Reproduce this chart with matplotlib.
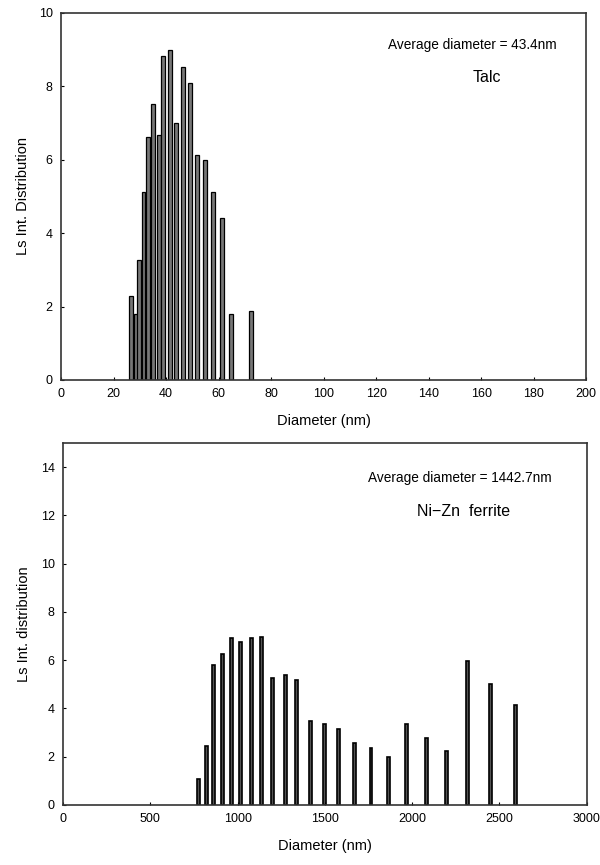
import matplotlib.pyplot as plt

plt.rcParams['font.family'] = ['Liberation Sans', 'DejaVu Sans']

# Talc size distribution
talc_d = [26.8, 28.4, 29.8, 31.4, 33.2, 35.0, 37.4, 38.9, 41.5, 43.9,
          46.3, 49.1, 51.9, 55.0, 58.0, 61.3, 64.8, 72.5]
talc_v = [2.29, 1.80, 3.27, 5.12, 6.61, 7.52, 6.68, 8.83, 8.99, 6.99,
          8.52, 8.08, 6.12, 5.99, 5.12, 4.41, 1.80, 1.87]

# Ni-Zn ferrite size distribution
fer_d = [774, 822, 864, 916, 966, 1017, 1079, 1138, 1199, 1272, 1339,
         1416, 1496, 1577, 1669, 1764, 1862, 1967, 2080, 2195, 2318, 2448, 2590]
fer_v = [1.07, 2.46, 5.82, 6.25, 6.92, 6.76, 6.90, 6.97, 5.26, 5.40, 5.19,
         3.50, 3.36, 3.15, 2.57, 2.37, 1.97, 3.36, 2.76, 2.25, 5.97, 5.01, 4.15]

fig = plt.figure(figsize=(6, 8.65), dpi=100)
ax1 = fig.add_axes([0.1017, 0.5607, 0.8753, 0.4243])
ax2 = fig.add_axes([0.105, 0.0694, 0.873, 0.4185])

ax1.bar(talc_d, talc_v, width=1.5, color='#777777', edgecolor='black', linewidth=0.9)
ax1.set_xlim(0, 200)
ax1.set_ylim(0, 10)
ax1.set_xticks(range(0, 201, 20))
ax1.set_yticks(range(0, 11, 2))
ax1.set_xlabel('Diameter (nm)', fontsize=10.5, labelpad=10)
ax1.set_ylabel('Ls Int. Distribution', fontsize=10.5, labelpad=6)
ax1.text(0.783, 0.913, 'Average diameter = 43.4nm', transform=ax1.transAxes,
         ha='center', va='center', fontsize=9.8)
ax1.text(0.81, 0.823, 'Talc', transform=ax1.transAxes,
         ha='center', va='center', fontsize=11.5)

ax2.bar(fer_d, fer_v, width=17, color='#555555', edgecolor='black', linewidth=1.2)
ax2.set_xlim(0, 3000)
ax2.set_ylim(0, 15)
ax2.set_xticks(range(0, 3001, 500))
ax2.set_yticks(range(0, 15, 2))
ax2.set_xlabel('Diameter (nm)', fontsize=10.5, labelpad=10)
ax2.set_ylabel('Ls Int. distribution', fontsize=10.5, labelpad=7)
ax2.text(0.757, 0.903, 'Average diameter = 1442.7nm', transform=ax2.transAxes,
         ha='center', va='center', fontsize=9.8)
ax2.text(0.765, 0.81, 'Ni\u2212Zn  ferrite', transform=ax2.transAxes,
         ha='center', va='center', fontsize=11.5)

for ax in (ax1, ax2):
    ax.tick_params(direction='in', length=2.5, width=0.8, labelsize=9, pad=6,
                   top=False, right=False)
    for s in ax.spines.values():
        s.set_linewidth(1.2)
        s.set_color('#333333')

fig.savefig('out.png', dpi=100)
